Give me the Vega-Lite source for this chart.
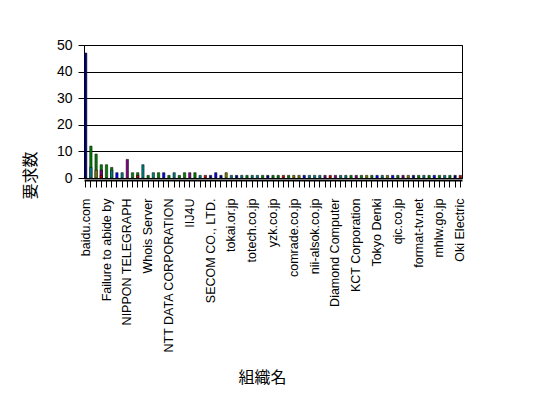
{
  "$schema": "https://vega.github.io/schema/vega-lite/v6.json",
  "width": 378,
  "height": 133,
  "autosize": {"type": "none"},
  "padding": {"left": 84, "top": 45, "right": 86, "bottom": 220},
  "background": "white",
  "config": {
    "view": {"stroke": "black", "strokeWidth": 1},
    "font": "Liberation Sans"
  },
  "data": {
    "values": [
      {"org": "baidu.com", "s": "navy", "v": 47},
      {"org": "#1", "s": "green", "v": 12}, {"org": "#1", "s": "teal", "v": 4},
      {"org": "#2", "s": "green", "v": 9}, {"org": "#2", "s": "olive", "v": 3},
      {"org": "#3", "s": "green", "v": 5}, {"org": "#3", "s": "magenta", "v": 3}, {"org": "#3", "s": "red", "v": 1},
      {"org": "Failure to abide by", "s": "green", "v": 5},
      {"org": "#5", "s": "green", "v": 4}, {"org": "#5", "s": "teal", "v": 3},
      {"org": "#6", "s": "blue", "v": 2},
      {"org": "#7", "s": "teal", "v": 2},
      {"org": "NIPPON TELEGRAPH", "s": "magenta", "v": 7},
      {"org": "#9", "s": "green", "v": 2},
      {"org": "#10", "s": "green", "v": 2}, {"org": "#10", "s": "red", "v": 1},
      {"org": "#11", "s": "teal", "v": 5},
      {"org": "Whois Server", "s": "green", "v": 1},
      {"org": "#13", "s": "teal", "v": 2},
      {"org": "#14", "s": "green", "v": 2},
      {"org": "#15", "s": "blue", "v": 2},
      {"org": "NTT DATA CORPORATION", "s": "green", "v": 1},
      {"org": "#17", "s": "teal", "v": 2},
      {"org": "#18", "s": "green", "v": 1},
      {"org": "#19", "s": "green", "v": 2},
      {"org": "IIJ4U", "s": "magenta", "v": 2},
      {"org": "#21", "s": "green", "v": 2},
      {"org": "#22", "s": "teal", "v": 1},
      {"org": "#23", "s": "red", "v": 1},
      {"org": "SECOM CO., LTD.", "s": "navy", "v": 1},
      {"org": "#25", "s": "blue", "v": 2},
      {"org": "#26", "s": "navy", "v": 1},
      {"org": "#27", "s": "olive", "v": 2},
      {"org": "tokai.or.jp", "s": "teal", "v": 1},
      {"org": "#29", "s": "navy", "v": 1},
      {"org": "#30", "s": "teal", "v": 1},
      {"org": "#31", "s": "green", "v": 1},
      {"org": "totech.co.jp", "s": "teal", "v": 1},
      {"org": "#33", "s": "teal", "v": 1},
      {"org": "#34", "s": "green", "v": 1},
      {"org": "#35", "s": "navy", "v": 1},
      {"org": "yzk.co.jp", "s": "green", "v": 1},
      {"org": "#37", "s": "green", "v": 1},
      {"org": "#38", "s": "red", "v": 1},
      {"org": "#39", "s": "green", "v": 1},
      {"org": "comrade.co.jp", "s": "olive", "v": 1},
      {"org": "#41", "s": "olive", "v": 1},
      {"org": "#42", "s": "blue", "v": 1},
      {"org": "#43", "s": "teal", "v": 1},
      {"org": "nii-alsok.co.jp", "s": "teal", "v": 1},
      {"org": "#45", "s": "teal", "v": 1},
      {"org": "#46", "s": "magenta", "v": 1},
      {"org": "#47", "s": "red", "v": 1},
      {"org": "Diamond Computer", "s": "magenta", "v": 1},
      {"org": "#49", "s": "teal", "v": 1},
      {"org": "#50", "s": "teal", "v": 1},
      {"org": "#51", "s": "green", "v": 1},
      {"org": "KCT Corporation", "s": "magenta", "v": 1},
      {"org": "#53", "s": "green", "v": 1},
      {"org": "#54", "s": "olive", "v": 1},
      {"org": "#55", "s": "green", "v": 1},
      {"org": "Tokyo Denki", "s": "blue", "v": 1},
      {"org": "#57", "s": "teal", "v": 1},
      {"org": "#58", "s": "olive", "v": 1},
      {"org": "#59", "s": "blue", "v": 1},
      {"org": "qic.co.jp", "s": "green", "v": 1},
      {"org": "#61", "s": "magenta", "v": 1},
      {"org": "#62", "s": "olive", "v": 1},
      {"org": "#63", "s": "navy", "v": 1},
      {"org": "format-tv.net", "s": "green", "v": 1},
      {"org": "#65", "s": "teal", "v": 1},
      {"org": "#66", "s": "green", "v": 1},
      {"org": "#67", "s": "blue", "v": 1},
      {"org": "mhlw.go.jp", "s": "green", "v": 1},
      {"org": "#69", "s": "teal", "v": 1},
      {"org": "#70", "s": "green", "v": 1},
      {"org": "#71", "s": "navy", "v": 1},
      {"org": "Oki Electric", "s": "red", "v": 1}
    ]
  },
  "mark": {"type": "bar", "stroke": "black", "strokeWidth": 0.5},
  "encoding": {
    "x": {
      "field": "org",
      "type": "nominal",
      "sort": null,
      "scale": {"paddingInner": 0.55, "paddingOuter": 0.1},
      "axis": {
        "title": "組織名",
        "titleFont": "Noto Sans CJK JP",
        "titleFontSize": 16,
        "titleFontWeight": "normal",
        "titleColor": "black",
        "titleX": 178,
        "titleY": 197,
        "titleBaseline": "middle",
        "labelAngle": 270,
        "labelFontSize": 12.5,
        "labelColor": "black",
        "labelPadding": 11,
        "labelOverlap": false,
        "labelExpr": "indexof(datum.value, '#') === 0 ? '' : datum.value",
        "tickColor": "black",
        "tickSize": 7,
        "domainColor": "black",
        "domainWidth": 2,
        "offset": 2
      }
    },
    "y": {
      "field": "v",
      "type": "quantitative",
      "stack": null,
      "scale": {"domain": [0, 50], "nice": false},
      "axis": {
        "title": "要求数",
        "titleFont": "Noto Sans CJK JP",
        "titleFontSize": 16,
        "titleFontWeight": "normal",
        "titleColor": "black",
        "titleX": -54,
        "titleY": 130,
        "titleAngle": 270,
        "titleAlign": "center",
        "titleBaseline": "middle",
        "values": [0, 10, 20, 30, 40, 50],
        "labelFontSize": 14,
        "labelColor": "black",
        "labelPadding": 6,
        "tickColor": "black",
        "tickSize": 6,
        "domainColor": "black",
        "grid": true,
        "gridColor": "black",
        "gridOpacity": 1
      }
    },
    "color": {
      "field": "s",
      "type": "nominal",
      "legend": null,
      "scale": {
        "domain": ["navy", "green", "teal", "magenta", "olive", "red", "blue"],
        "range": ["#000080", "#008000", "#008080", "#800080", "#808000", "#C00000", "#0000FF"]
      }
    }
  }
}
